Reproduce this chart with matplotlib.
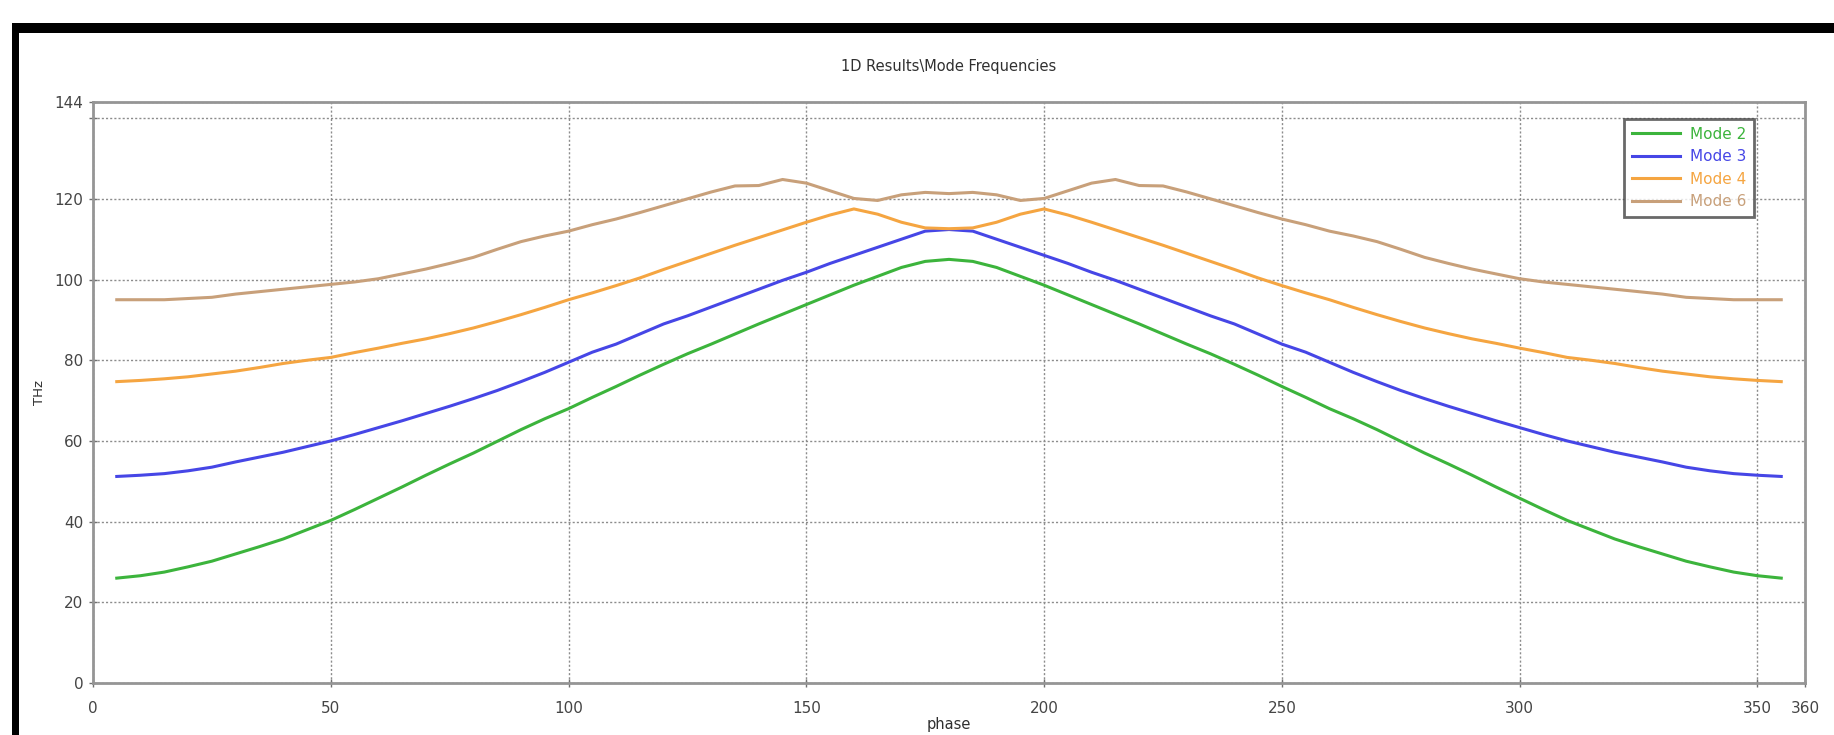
import numpy as np
import matplotlib.pyplot as plt
from matplotlib.patches import Rectangle

# phase samples (degrees)
phase = [5, 10, 15, 20, 25, 30, 35, 40, 45, 50, 55, 60, 65, 70, 75, 80, 85, 90,
         95, 100, 105, 110, 115, 120, 125, 130, 135, 140, 145, 150, 155, 160, 165, 170, 175, 180,
         185, 190, 195, 200, 205, 210, 215, 220, 225, 230, 235, 240, 245, 250, 255, 260, 265, 270,
         275, 280, 285, 290, 295, 300, 305, 310, 315, 320, 325, 330, 335, 340, 345, 350, 355]

mode2 = [26.0, 26.6, 27.5, 28.8, 30.2, 32.0, 33.8, 35.7, 38.0, 40.3, 43.0, 45.8, 48.6, 51.5, 54.3, 57.0, 59.9, 62.8,
         65.5, 68.0, 70.8, 73.5, 76.3, 79.0, 81.6, 84.0, 86.5, 89.0, 91.4, 93.8, 96.2, 98.6, 100.8, 103.0, 104.5, 105.0,
         104.5, 103.0, 100.8, 98.6, 96.2, 93.8, 91.4, 89.0, 86.5, 84.0, 81.6, 79.0, 76.3, 73.5, 70.8, 68.0, 65.5, 62.8,
         59.9, 57.0, 54.3, 51.5, 48.6, 45.8, 43.0, 40.3, 38.0, 35.7, 33.8, 32.0, 30.2, 28.8, 27.5, 26.6, 26.0]

mode3 = [51.2, 51.5, 51.9, 52.6, 53.5, 54.8, 56.0, 57.2, 58.6, 60.0, 61.6, 63.3, 65.0, 66.8, 68.6, 70.5, 72.5, 74.7,
         77.0, 79.5, 82.0, 84.0, 86.5, 89.0, 91.0, 93.2, 95.4, 97.6, 99.8, 101.8, 104.0, 106.0, 108.0, 110.0, 112.0, 112.4,
         112.0, 110.0, 108.0, 106.0, 104.0, 101.8, 99.8, 97.6, 95.4, 93.2, 91.0, 89.0, 86.5, 84.0, 82.0, 79.5, 77.0, 74.7,
         72.5, 70.5, 68.6, 66.8, 65.0, 63.3, 61.6, 60.0, 58.6, 57.2, 56.0, 54.8, 53.5, 52.6, 51.9, 51.5, 51.2]

mode4 = [74.7, 75.0, 75.4, 75.9, 76.6, 77.3, 78.2, 79.2, 80.0, 80.7, 81.9, 83.0, 84.2, 85.3, 86.6, 88.0, 89.6, 91.3,
         93.1, 95.0, 96.7, 98.5, 100.4, 102.5, 104.5, 106.5, 108.5, 110.4, 112.3, 114.2, 116.0, 117.5, 116.2, 114.2, 112.8, 112.6,
         112.8, 114.2, 116.2, 117.5, 116.0, 114.2, 112.3, 110.4, 108.5, 106.5, 104.5, 102.5, 100.4, 98.5, 96.7, 95.0, 93.1, 91.3,
         89.6, 88.0, 86.6, 85.3, 84.2, 83.0, 81.9, 80.7, 80.0, 79.2, 78.2, 77.3, 76.6, 75.9, 75.4, 75.0, 74.7]

mode6 = [95.0, 95.0, 95.0, 95.3, 95.6, 96.4, 97.0, 97.6, 98.2, 98.8, 99.4, 100.2, 101.4, 102.6, 104.0, 105.5, 107.5, 109.4,
         110.8, 112.0, 113.6, 115.0, 116.6, 118.3, 120.0, 121.7, 123.2, 123.3, 124.8, 123.9, 122.0, 120.1, 119.6, 121.0, 121.6, 121.3,
         121.6, 121.0, 119.6, 120.1, 122.0, 123.9, 124.8, 123.3, 123.2, 121.7, 120.0, 118.3, 116.6, 115.0, 113.6, 112.0, 110.8, 109.4,
         107.5, 105.5, 104.0, 102.6, 101.4, 100.2, 99.4, 98.8, 98.2, 97.6, 97.0, 96.4, 95.6, 95.3, 95.0, 95.0, 95.0]

labels = ['Mode 2', 'Mode 3', 'Mode 4', 'Mode 6']
colors = ['#3cb43c', '#4646e6', '#f5a541', '#c8a07a']

xticks = [0, 50, 100, 150, 200, 250, 300, 350, 360]
yticks = [0, 20, 40, 60, 80, 100, 120, 140, 144]
ytick_labels = ['0', '20', '40', '60', '80', '100', '120', '', '144']

plt.rcParams['font.family'] = ['DejaVu Sans']

fig = plt.figure(figsize=(18.34, 7.35), dpi=100)
ax = fig.add_axes([0.0507, 0.0707, 0.9335, 0.7905])

for y, lab, c in zip([mode2, mode3, mode4, mode6], labels, colors):
    ax.plot(phase, y, color=c, lw=2.2, label=lab)

ax.set_xlim(0, 360)
ax.set_ylim(0, 144)
ax.set_xticks(xticks)
ax.set_yticks(yticks)
ax.set_yticklabels(ytick_labels)
ax.tick_params(direction='inout', length=6, width=1, color='#707070',
               labelsize=11, labelcolor='#454545')
ax.tick_params(axis='x', pad=10)
ax.tick_params(axis='y', pad=4)

ax.grid(True, linestyle=(0, (1.5, 1.5)), color='#8c8c8c', lw=1)
for s in ax.spines.values():
    s.set_color('#959595')
    s.set_linewidth(2)

ax.set_title('1D Results\\Mode Frequencies', fontsize=10.5, color='#303030', pad=22)
ax.set_xlabel('phase', fontsize=10.5, color='#303030', labelpad=1)
ax.set_ylabel('THz', fontsize=9.5, color='#303030', labelpad=6)

leg = ax.legend(loc='upper right', bbox_to_anchor=(0.970, 0.971), borderaxespad=0,
                fontsize=11, frameon=True, fancybox=False, handlelength=3.2,
                handletextpad=0.6, borderpad=0.5, labelspacing=0.5)
leg.get_frame().set_edgecolor('#444444')
leg.get_frame().set_linewidth(2)
for t, c in zip(leg.get_texts(), colors):
    t.set_color(c)

# black frame from the original screenshot
W, H = 1834, 735
fig.add_artist(Rectangle((12 / W, 0), 7 / W, (H - 23) / H, transform=fig.transFigure,
                         color='black', lw=0))
fig.add_artist(Rectangle((12 / W, (H - 33) / H), 1 - 12 / W, 10 / H, transform=fig.transFigure,
                         color='black', lw=0))

fig.savefig('out.png', dpi=100)
